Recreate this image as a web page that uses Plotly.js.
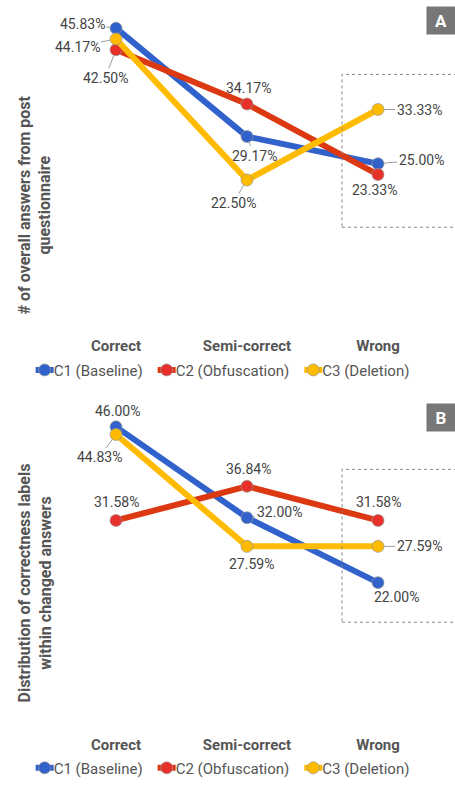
<!DOCTYPE html>
<html>
<head>
<meta charset="utf-8">
<script src="https://cdn.plot.ly/plotly-3.0.1.min.js"></script>
<style>html,body{margin:0;padding:0;background:#fff;}#chart{width:455px;height:785px;}</style>
</head>
<body>
<div id="chart"></div>
<script>
// ---- data ----
const categories = ['Correct', 'Semi-correct', 'Wrong'];
const seriesNames = ['C1 (Baseline)', 'C2 (Obfuscation)', 'C3 (Deletion)'];
const postC1 = [45.83, 29.17, 25.00];
const postC2 = [42.50, 34.17, 23.33];
const postC3 = [44.17, 22.50, 33.33];
const changedC1 = [46.00, 32.00, 22.00];
const changedC2 = [31.58, 36.84, 31.58];
const changedC3 = [44.83, 27.59, 27.59];
const panelLabels = ['A', 'B'];
const yTitles = ['# of overall answers from post<br>questionnaire',
                 'Distribution of correctness labels<br>within changed answers'];

// ---- styles ----
const lineColors = ['#3162cc', '#dc3912', '#ffbb00'];
const markerColors = ['#3162cc', '#e8302b', '#ffbb00'];
const FONT = 'Roboto, "Noto Sans", Arial, sans-serif';
// label offsets [ax, ay, leader]
const topOffsets = [
  [[-34, -4, 1], [7, 19, 1], [43, -4, 1]],
  [[-11, 28, 1], [1, -16, 0], [-4, 15, 0]],
  [[-39, 8, 1], [-14, 23, 1], [41, 0, 1]]
];
const botOffsets = [
  [[1, -16, 0], [32, -6, 1], [18, 14, 0]],
  [[0, -18, 0], [1, -17, 0], [0, -18, 0]],
  [[-17, 23, 1], [4, 18, 0], [41, 0, 1]]
];

const postData = [postC1, postC2, postC3];
const changedData = [changedC1, changedC2, changedC3];

const traces = [];
const annotations = [];

function addPanel(data, xa, ya, legendId, offsets) {
  data.forEach((vals, i) => {
    traces.push({
      type: 'scatter', mode: 'lines+markers',
      x: categories, y: vals, xaxis: xa, yaxis: ya,
      name: seriesNames[i], legend: legendId,
      line: {color: lineColors[i], width: 6},
      marker: {color: markerColors[i], size: 12, line: {color: 'rgba(150,150,150,0.7)', width: 1}},
      cliponaxis: false, hoverinfo: 'skip'
    });
    vals.forEach((v, j) => {
      const o = offsets[i][j];
      annotations.push({
        xref: xa, yref: ya, x: categories[j], y: v,
        text: v.toFixed(2) + '%',
        showarrow: true, ax: o[0], ay: o[1], arrowhead: 0, arrowwidth: 1,
        arrowcolor: o[2] ? '#9e9e9e' : 'rgba(0,0,0,0)', standoff: 6,
        font: {family: FONT, size: 14, color: '#444'}
      });
    });
  });
}
addPanel(postData, 'x', 'y', 'legend', topOffsets);
addPanel(changedData, 'x2', 'y2', 'legend2', botOffsets);

// y titles
const titleCenters = [1 - 207 / 785, 1 - 588 / 785];
yTitles.forEach((t, k) => {
  annotations.push({
    xref: 'paper', yref: 'paper', x: 35 / 455, y: titleCenters[k],
    xanchor: 'center', yanchor: 'middle', textangle: -90, showarrow: false,
    text: t, font: {family: FONT, size: 16, color: '#555', weight: 700}
  });
});
// panel labels
const panelY = [1 - 21 / 785, 1 - 421 / 785];
panelLabels.forEach((p, k) => {
  annotations.push({
    xref: 'paper', yref: 'paper', x: 441 / 455, y: panelY[k],
    xanchor: 'center', yanchor: 'middle', showarrow: false,
    text: p, bgcolor: '#777', borderpad: 4, width: 20, height: 19,
    font: {family: FONT, size: 17, color: '#fff', weight: 700}
  });
});

const axisX = {
  range: [-0.5, 2.5], showgrid: false, zeroline: false, showline: false, ticks: '',
  ticklabelstandoff: 9,
  tickfont: {family: FONT, size: 15, color: '#555', weight: 700}, fixedrange: true
};
const axisY = {range: [0, 50], visible: false, showgrid: false, zeroline: false, fixedrange: true};
const xd = [50.5 / 455, 443.5 / 455];

const legendBase = {orientation: 'h', x: 0.03, xanchor: 'left', yanchor: 'middle',
  font: {family: FONT, size: 15, color: '#555'}, itemwidth: 30, tracegroupgap: 0, bgcolor: 'rgba(0,0,0,0)'};

const layout = {
  width: 455, height: 785,
  margin: {l: 0, r: 0, t: 0, b: 0},
  paper_bgcolor: '#fff', plot_bgcolor: 'rgba(0,0,0,0)',
  font: {family: FONT, color: '#444'},
  showlegend: true,
  xaxis: Object.assign({}, axisX, {domain: xd, anchor: 'y'}),
  yaxis: Object.assign({}, axisY, {domain: [456 / 785, 784 / 785], anchor: 'x'}),
  xaxis2: Object.assign({}, axisX, {domain: xd, anchor: 'y2'}),
  yaxis2: Object.assign({}, axisY, {domain: [54 / 785, 381 / 785], anchor: 'x2'}),
  legend: Object.assign({}, legendBase, {y: 1 - 373 / 785}),
  legend2: Object.assign({}, legendBase, {y: 1 - 774 / 785}),
  shapes: [
    {type: 'rect', xref: 'paper', yref: 'paper', x0: 342 / 455, x1: 1.02, y0: 1 - 229 / 785, y1: 1 - 75 / 785,
     line: {color: '#888', width: 1, dash: 'dot'}},
    {type: 'rect', xref: 'paper', yref: 'paper', x0: 342 / 455, x1: 1.02, y0: 1 - 627 / 785, y1: 1 - 473 / 785,
     line: {color: '#888', width: 1, dash: 'dot'}}
  ],
  annotations: annotations
};

Plotly.newPlot('chart', traces, layout, {displayModeBar: false, staticPlot: true}).then(gd => {
  // compact legend swatches, as in the original
  gd.querySelectorAll('.legendlines path').forEach(p => p.setAttribute('d', 'M22,0h18'));
  gd.querySelectorAll('.legendpoints path').forEach(p => {
    const t = p.getAttribute('transform') || '';
    p.setAttribute('transform', t.replace(/translate\(\s*20/, 'translate(31'));
  });
  // tighter spacing between legend entries (both legends)
  const groups = new Set();
  gd.querySelectorAll('g.traces').forEach(it => groups.add(it.parentNode));
  groups.forEach(parent => {
    const items = Array.from(parent.children).filter(c => c.classList && c.classList.contains('traces'));
    items.forEach((it, i) => {
      const m = /translate\(\s*([-\d.]+)[ ,]+([-\d.]+)/.exec(it.getAttribute('transform') || '');
      if (!m) return;
      it.setAttribute('transform', 'translate(' + (parseFloat(m[1]) - 12 * i) + ',' + m[2] + ')');
    });
  });
});
</script>
</body>
</html>
